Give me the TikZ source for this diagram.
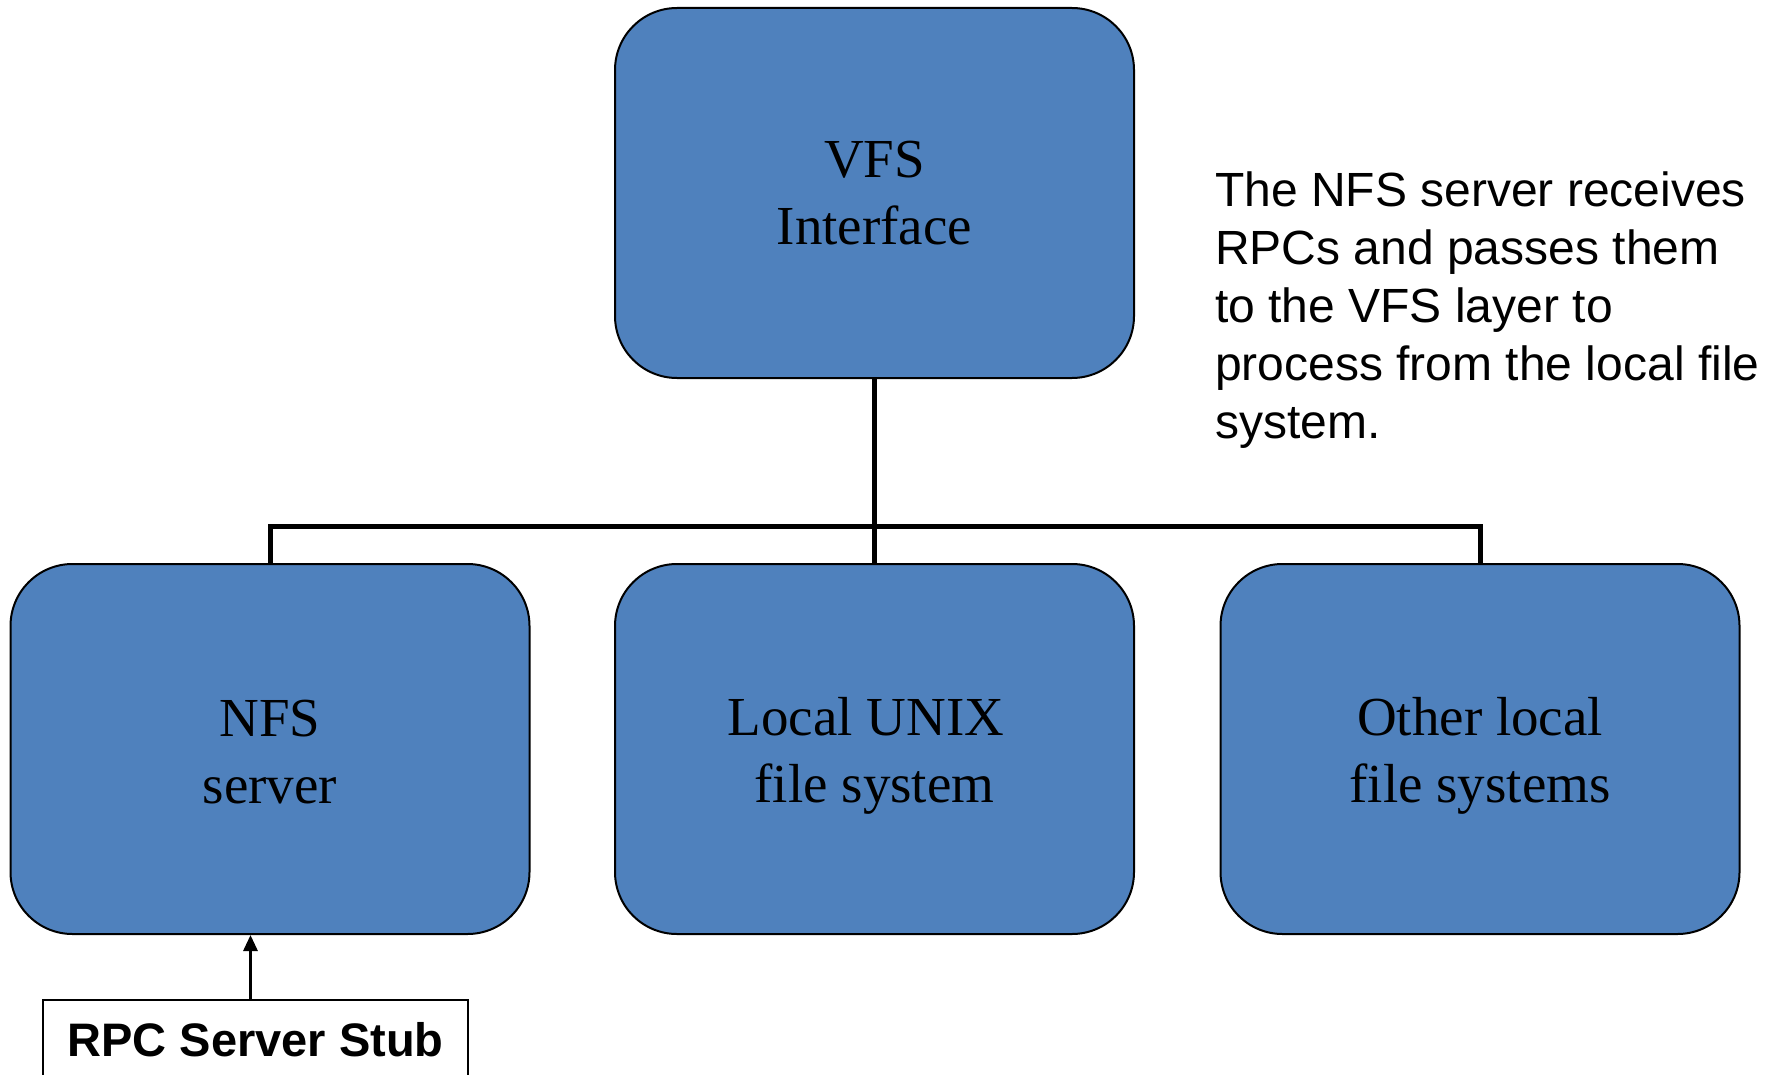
\documentclass[tikz,border=0pt]{standalone}
\usepackage{fontspec}
\setmainfont{Liberation Serif}
\newfontfamily\arialfont{Liberation Sans}
\usetikzlibrary{arrows.meta}
\definecolor{boxblue}{HTML}{4F81BD}
\begin{document}
\begin{tikzpicture}[x=1pt,y=-1pt,
  fsbox/.style={draw=black, line width=2pt, fill=boxblue, rounded corners=62pt,
    minimum width=519pt, minimum height=370pt, inner sep=0pt, align=center,
    font=\fontsize{55}{67}\selectfont},
  fstext/.style={inner sep=0pt, align=center, font=\fontsize{55}{67}\selectfont},
  link/.style={line width=5pt},
  stubbox/.style={draw=black, line width=2pt, fill=white, minimum width=425pt,
    minimum height=80pt, inner sep=0pt, font=\arialfont\bfseries\fontsize{47}{56}\selectfont},
  note/.style={anchor=north west, inner sep=0pt, align=left,
    font=\arialfont\fontsize{48}{58}\selectfont}]
\useasboundingbox (0,0) rectangle (1776,1075);
\node[fsbox] (vfs) at (874.5,193) {VFS\\Interface};
\node[fsbox] (nfs) at (270,749) {};
\node[fsbox] (unix) at (874.5,749) {};
\node[fsbox] (other) at (1480,749) {};
\node[fstext] (nfstxt) at ([yshift=-3pt]nfs.center) {NFS\\server};
\node[fstext] (unixtxt) at ([yshift=-7pt]unix.center) {Local UNIX\hspace*{17pt}\\file system};
\node[fstext] (othertxt) at ([yshift=-7pt]other.center) {Other local\\file systems};
\coordinate (bar) at (874.5,526);
\draw[link] (vfs.south) -- (unix.north);
\draw[link] (nfs.north) |- (bar) -| (other.north);
\node[stubbox, anchor=north] (stub) at (255.5,999) {RPC Server Stub};
\draw[line width=3pt, -{Triangle[length=16pt,width=14pt]}] ([xshift=-5pt]stub.north) -- ([xshift=-5pt]stub.north |- nfs.south);
\node[note] (desc) at (1215,172) {The NFS server receives\\RPCs and passes them\\to the VFS layer to\\process from the local file\\system.};
\end{tikzpicture}
\end{document}
